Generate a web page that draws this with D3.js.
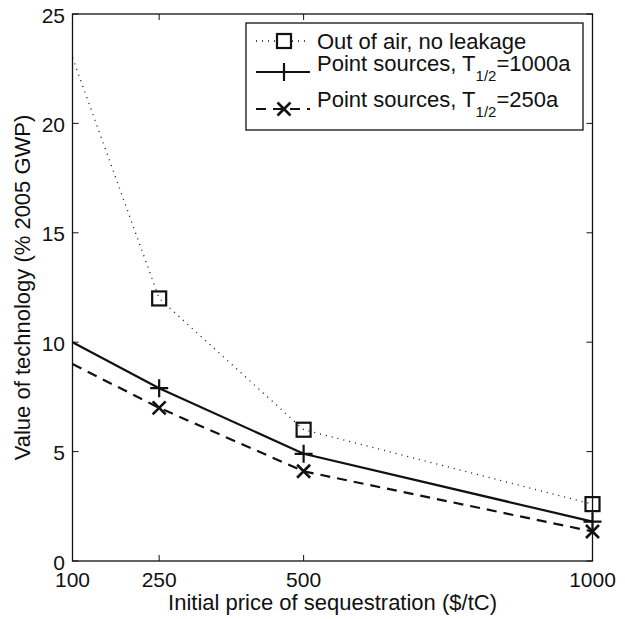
<!DOCTYPE html>
<html>
<head>
<meta charset="utf-8">
<script src="https://cdn.jsdelivr.net/npm/d3@7"></script>
<style>
  body { margin: 0; background: #fff; }
  text { font-family: "Liberation Sans", Arial, sans-serif; fill: #111; }
</style>
</head>
<body>
<svg id="chart" width="625" height="619"></svg>
<script>
// Values
const prices = [100, 250, 500, 1000];
const outOfAir = [23.0, 12.0, 6.0, 2.6];
const point1000 = [10.0, 7.9, 4.9, 1.8];
const point250 = [9.0, 7.0, 4.1, 1.35];
const xTicks = [100, 250, 500, 1000];
const yTicks = [0, 5, 10, 15, 20, 25];

const W = 625, H = 619;
const m = { left: 72.5, right: 32.5, top: 14, bottom: 58 };

const svg = d3.select('#chart');
const x = d3.scaleLinear().domain([100, 1000]).range([m.left, W - m.right]);
const y = d3.scaleLinear().domain([0, 25]).range([H - m.bottom, m.top]);

const series = [
  { name: 'Out of air, no leakage', sub: null, values: outOfAir, dash: '1,5', width: 1.3, marker: 'square' },
  { name: 'Point sources, T', sub: '1/2', tail: '=1000a', values: point1000, dash: null, width: 2.2, marker: 'plus' },
  { name: 'Point sources, T', sub: '1/2', tail: '=250a', values: point250, dash: '10,7', width: 2.2, marker: 'cross' }
];

function drawMarker(g, type) {
  if (type === 'square') {
    g.append('rect').attr('x', -7).attr('y', -7).attr('width', 14).attr('height', 14)
      .attr('fill', 'none').attr('stroke', '#111').attr('stroke-width', 2.2);
  } else if (type === 'plus') {
    g.append('path').attr('d', 'M-9,0H9M0,-9V9').attr('stroke', '#111').attr('stroke-width', 2.2);
  } else {
    g.append('path').attr('d', 'M-6.5,-6.5L6.5,6.5M-6.5,6.5L6.5,-6.5').attr('stroke', '#111').attr('stroke-width', 2.6);
  }
}

// frame
svg.append('rect')
  .attr('x', m.left).attr('y', m.top)
  .attr('width', W - m.left - m.right).attr('height', H - m.top - m.bottom)
  .attr('fill', 'none').attr('stroke', '#111').attr('stroke-width', 1.3);

// inward ticks, all four sides
const tickLen = 6;
xTicks.forEach((t) => {
  svg.append('line').attr('x1', x(t)).attr('x2', x(t)).attr('y1', y(0)).attr('y2', y(0) - tickLen).attr('stroke', '#111');
  svg.append('line').attr('x1', x(t)).attr('x2', x(t)).attr('y1', y(25)).attr('y2', y(25) + tickLen).attr('stroke', '#111');
  svg.append('text').attr('x', x(t)).attr('y', y(0) + 26).attr('text-anchor', 'middle')
    .attr('font-size', 21).text(t);
});
yTicks.forEach((t) => {
  svg.append('line').attr('x1', x(100)).attr('x2', x(100) + tickLen).attr('y1', y(t)).attr('y2', y(t)).attr('stroke', '#111');
  svg.append('line').attr('x1', x(1000)).attr('x2', x(1000) - tickLen).attr('y1', y(t)).attr('y2', y(t)).attr('stroke', '#111');
  svg.append('text').attr('x', x(100) - 7.5).attr('y', y(t) + 8.5).attr('text-anchor', 'end')
    .attr('font-size', 21).text(t);
});

// axis labels
svg.append('text').attr('x', (x(100) + x(1000)) / 2).attr('y', 610).attr('text-anchor', 'middle')
  .attr('font-size', 22).text('Initial price of sequestration ($/tC)');
svg.append('text').attr('transform', `translate(30,${(y(0) + y(25)) / 2}) rotate(-90)`)
  .attr('text-anchor', 'middle').attr('font-size', 22).text('Value of technology (% 2005 GWP)');

// lines and markers (the leftmost point carries no marker)
const line = d3.line().x((d) => x(d[0])).y((d) => y(d[1]));
series.forEach((s) => {
  const pts = prices.map((p, i) => [p, s.values[i]]);
  svg.append('path').datum(pts).attr('d', line)
    .attr('fill', 'none').attr('stroke', '#111').attr('stroke-width', s.width)
    .attr('stroke-dasharray', s.dash);
  pts.slice(1).forEach((p) => {
    drawMarker(svg.append('g').attr('transform', `translate(${x(p[0])},${y(p[1])})`), s.marker);
  });
});

// legend
const lg = svg.append('g');
lg.append('rect').attr('x', 246).attr('y', 23).attr('width', 337).attr('height', 107)
  .attr('fill', '#fff').attr('stroke', '#111').attr('stroke-width', 1.3);
const rowLineY = [41, 72, 109];
const rowTextY = [49, 71, 107];
series.forEach((s, i) => {
  const ry = rowLineY[i];
  lg.append('line').attr('x1', 256).attr('x2', 310).attr('y1', ry).attr('y2', ry)
    .attr('stroke', '#111').attr('stroke-width', s.width).attr('stroke-dasharray', s.dash);
  if (s.marker === 'square') {
    lg.append('rect').attr('x', 277).attr('y', ry - 7).attr('width', 14).attr('height', 14).attr('fill', '#fff');
  }
  drawMarker(lg.append('g').attr('transform', `translate(284,${ry})`), s.marker);
  const t = lg.append('text').attr('x', 317).attr('y', rowTextY[i]).attr('font-size', 22);
  t.append('tspan').text(s.name);
  if (s.sub) {
    t.append('tspan').attr('font-size', 15).attr('dy', 10).text(s.sub);
    t.append('tspan').attr('dy', -10).text(s.tail);
  }
});
</script>
</body>
</html>
